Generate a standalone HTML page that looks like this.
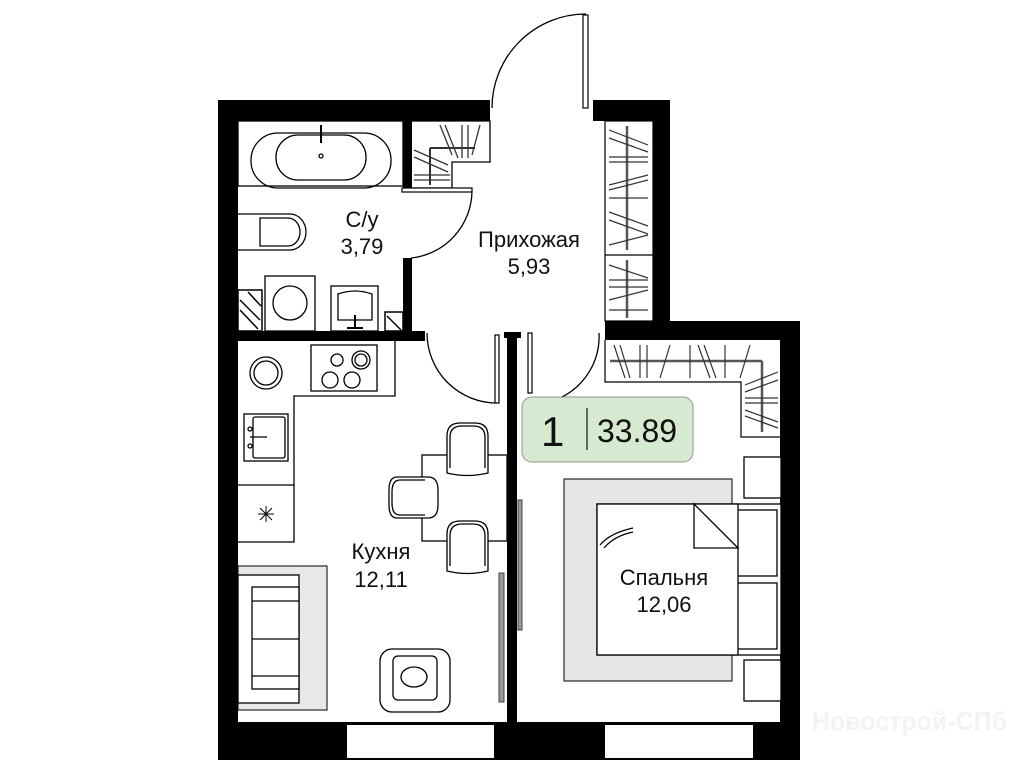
<!DOCTYPE html>
<html><head><meta charset="utf-8"><style>
html,body{margin:0;padding:0;background:#fff;width:1018px;height:768px;overflow:hidden}
text{font-family:"Liberation Sans",sans-serif;fill:#111}
</style></head><body>
<svg width="1018" height="768" viewBox="0 0 1018 768" xmlns="http://www.w3.org/2000/svg">
<g fill="#000">
<rect x="218" y="100" width="20" height="660"/>
<rect x="218" y="100" width="272" height="21"/>
<rect x="593" y="100" width="77" height="21"/>
<rect x="653" y="100" width="17" height="240"/>
<rect x="605" y="321" width="195" height="19"/>
<rect x="780" y="321" width="20" height="439"/>
<rect x="218" y="722" width="582" height="38"/>
<rect x="403" y="121" width="9" height="67"/>
<rect x="403" y="258" width="9" height="75"/>
<rect x="238" y="331" width="187" height="10"/>
<rect x="507" y="334" width="10" height="390"/>
<rect x="504" y="332" width="17" height="6"/>
</g>
<rect x="347" y="725" width="147" height="33" fill="#fff"/>
<rect x="605" y="725" width="148" height="33" fill="#fff"/>
<g stroke="#000" stroke-width="1.5" fill="#fff">
<rect x="238" y="290" width="24" height="41"/>
<rect x="385" y="312" width="18" height="19"/>
</g>
<g stroke="#000" stroke-width="1.5">
<line x1="240" y1="300" x2="260" y2="320"/><line x1="240" y1="310" x2="258" y2="329"/><line x1="248" y1="292" x2="261" y2="306"/>
<line x1="387" y1="316" x2="401" y2="330"/>
</g>
<g fill="none" stroke="#000" stroke-width="1.3">
<rect x="238" y="121" width="165" height="65"/>
<rect x="251" y="133" width="140" height="55" rx="27"/>
<rect x="276" y="135" width="90" height="45" rx="22"/>
<line x1="321" y1="125" x2="321" y2="143" stroke-width="2"/>
<circle cx="321" cy="156" r="2"/>
<path d="M238 214 H290 A16 18 0 0 1 290 250 H238"/>
<path d="M260 218 H288 A12 14 0 0 1 288 246 H260 Z"/>
<rect x="265" y="276" width="50" height="55"/>
<circle cx="290" cy="303" r="17"/>
<rect x="331" y="286" width="47" height="45"/>
<path d="M338 294 Q355 288 372 294 V320 H338 Z"/>
<line x1="355" y1="315" x2="355" y2="328" stroke-width="2"/>
<line x1="347" y1="328" x2="363" y2="328" stroke-width="2"/>
<path d="M412 121 H490 V162 H452 V188 H412"/>
<g stroke="#333">
<line x1="430" y1="148" x2="475" y2="148" stroke-width="2"/><line x1="430" y1="148" x2="430" y2="185" stroke-width="2"/>
<line x1="440" y1="125" x2="452" y2="155"/><line x1="445" y1="125" x2="458" y2="158"/><line x1="462" y1="125" x2="462" y2="158"/><line x1="468" y1="125" x2="468" y2="158"/><line x1="480" y1="125" x2="472" y2="155"/>
<line x1="414" y1="150" x2="448" y2="165"/><line x1="414" y1="157" x2="448" y2="172"/>
<line x1="414" y1="175" x2="450" y2="175"/><line x1="414" y1="180" x2="450" y2="180"/>
</g>
<path d="M586 14 A94 94 0 0 0 492 108"/>
<path d="M472 191 A68 68 0 0 1 411 258"/>
<path d="M427 333 A70 70 0 0 0 497 403"/>
<path d="M599 333 A68 68 0 0 1 560 398"/>
</g>
<g fill="#fff" stroke="#000" stroke-width="1.2">
<rect x="583" y="15" width="5" height="93"/>
<rect x="402" y="188" width="70" height="4"/>
<rect x="495" y="335" width="4" height="68"/>
<rect x="528" y="333" width="4" height="60"/>
</g>
<g fill="none" stroke="#000" stroke-width="1.2">
<rect x="605" y="121" width="48" height="200"/>
<line x1="605" y1="255" x2="653" y2="255"/>
<line x1="627" y1="126" x2="627" y2="250" stroke="#555" stroke-width="2.5"/>
<line x1="627" y1="260" x2="627" y2="318" stroke="#555" stroke-width="2.5"/>
<g stroke="#333">
<line x1="609" y1="130" x2="648" y2="145"/><line x1="609" y1="138" x2="648" y2="152"/><line x1="609" y1="157" x2="648" y2="157"/><line x1="609" y1="162" x2="648" y2="162"/>
<line x1="609" y1="185" x2="648" y2="175"/><line x1="609" y1="190" x2="648" y2="180"/><line x1="609" y1="198" x2="648" y2="198"/>
<line x1="609" y1="212" x2="648" y2="226"/><line x1="609" y1="220" x2="648" y2="234"/><line x1="609" y1="245" x2="648" y2="235"/>
<line x1="609" y1="265" x2="648" y2="278"/><line x1="609" y1="280" x2="648" y2="280"/><line x1="609" y1="287" x2="648" y2="287"/><line x1="609" y1="300" x2="648" y2="290"/><line x1="609" y1="310" x2="648" y2="310"/>
</g>
<path d="M605 340 V382 H741 V437 H780"/>
<line x1="610" y1="361" x2="762" y2="361" stroke="#555" stroke-width="2.5"/>
<line x1="762" y1="361" x2="762" y2="432" stroke="#555" stroke-width="2.5"/>
<g stroke="#333">
<line x1="614" y1="345" x2="625" y2="378"/><line x1="620" y1="345" x2="630" y2="378"/><line x1="640" y1="345" x2="640" y2="378"/><line x1="647" y1="345" x2="647" y2="378"/><line x1="670" y1="345" x2="660" y2="378"/><line x1="690" y1="345" x2="690" y2="378"/><line x1="698" y1="345" x2="710" y2="378"/><line x1="704" y1="345" x2="716" y2="378"/><line x1="725" y1="345" x2="725" y2="378"/><line x1="750" y1="345" x2="740" y2="378"/>
<line x1="745" y1="385" x2="778" y2="372"/><line x1="745" y1="392" x2="778" y2="380"/><line x1="745" y1="398" x2="778" y2="398"/><line x1="745" y1="403" x2="778" y2="403"/><line x1="745" y1="410" x2="778" y2="422"/><line x1="745" y1="416" x2="778" y2="428"/>
</g>
</g>
<g fill="none" stroke="#000" stroke-width="1.3">
<path d="M395 341 V396 H294 V542 H238"/>
<line x1="238" y1="485" x2="294" y2="485"/>
<rect x="311" y="345" width="66" height="46"/>
<circle cx="337" cy="360" r="6"/><circle cx="361" cy="360" r="9"/><circle cx="361" cy="360" r="6"/><circle cx="330" cy="380" r="8"/><circle cx="352" cy="380" r="8"/>
<circle cx="266" cy="373" r="16"/><circle cx="266" cy="373" r="12"/>
<rect x="244" y="414" width="44" height="47"/><rect x="253" y="417" width="32" height="41" rx="2"/>
<circle cx="250" cy="429" r="2"/><circle cx="250" cy="446" r="2"/><line x1="250" y1="437" x2="267" y2="437"/>
<g stroke-width="1"><line x1="266" y1="506" x2="266" y2="522"/><line x1="258" y1="514" x2="274" y2="514"/><line x1="260" y1="508" x2="272" y2="520"/><line x1="272" y1="508" x2="260" y2="520"/></g>
<rect x="422" y="455" width="85" height="86"/>
<path d="M447 473 V436 Q447 423 460 423 H475 Q488 423 488 436 V473 Q467 478 447 473Z" fill="#fff"/>
<path d="M450 468 V437 Q450 426 462 426 H473 Q485 426 485 437 V468"/>
<path d="M447 571 V534 Q447 521 460 521 H475 Q488 521 488 534 V571 Q467 576 447 571Z" fill="#fff"/>
<path d="M450 566 V536 Q450 524 462 524 H473 Q485 524 485 536 V566"/>
<path d="M428 477 H397 Q389 477 389 490 V505 Q389 518 397 518 H428 Q438 518 438 505 V490 Q438 477 428 477Z" fill="#fff"/>
<path d="M425 480 H400 Q392 480 392 492 V503 Q392 515 400 515 H425"/>
</g>
<rect x="238" y="566" width="89" height="144" fill="#e8e8e8" stroke="#000" stroke-width="1"/>
<g fill="#fff" stroke="#000" stroke-width="1.3">
<rect x="238" y="575" width="61" height="128"/>
<rect x="252" y="587" width="47" height="102"/>
<line x1="252" y1="601" x2="299" y2="601"/><line x1="252" y1="639" x2="299" y2="639"/><line x1="252" y1="676" x2="299" y2="676"/>
<rect x="380" y="649" width="70" height="63" rx="12"/>
<rect x="393" y="656" width="44" height="44" rx="5"/>
<ellipse cx="414" cy="677" rx="13" ry="10" fill="none"/>
</g>
<g fill="#999" stroke="#444" stroke-width="1">
<rect x="499" y="573" width="5" height="129"/>
<rect x="518" y="500" width="4" height="130"/>
</g>
<rect x="564" y="479" width="168" height="202" fill="#e6e6e6" stroke="#000" stroke-width="1"/>
<g fill="#fff" stroke="#000" stroke-width="1.3">
<rect x="744" y="457" width="37" height="41"/>
<rect x="744" y="660" width="37" height="41"/>
<rect x="597" y="504" width="184" height="151"/>
<rect x="734" y="510" width="43" height="66"/>
<rect x="734" y="583" width="43" height="66"/>
<rect x="597" y="504" width="141" height="151"/>
<path d="M694 504 L738 548 H694 Z"/>
<path d="M600 545 Q610 533 633 528 M604 548 Q614 536 633 532" fill="none"/>
</g>
<rect x="522" y="397" width="171" height="65" rx="10" fill="#d6e9d1" stroke="#8a9a88" stroke-width="1"/>
<text x="541" y="446" font-size="42" font-weight="300">1</text>
<line x1="587" y1="408" x2="587" y2="450" stroke="#2c4a2a" stroke-width="1.5"/>
<text x="597" y="442" font-size="32">33.89</text>
<g font-size="22" text-anchor="middle">
<text x="362" y="227">С/у</text><text x="362" y="254">3,79</text>
<text x="529" y="247">Прихожая</text><text x="529" y="274">5,93</text>
<text x="381" y="559">Кухня</text><text x="381" y="587">12,11</text>
<text x="664" y="585">Спальня</text><text x="664" y="612">12,06</text>
</g>
<text x="812" y="730" font-size="26" font-weight="bold" textLength="195" lengthAdjust="spacingAndGlyphs" style="fill:#f3f3f3">Новострой-СПб</text>
</svg>
</body></html>
